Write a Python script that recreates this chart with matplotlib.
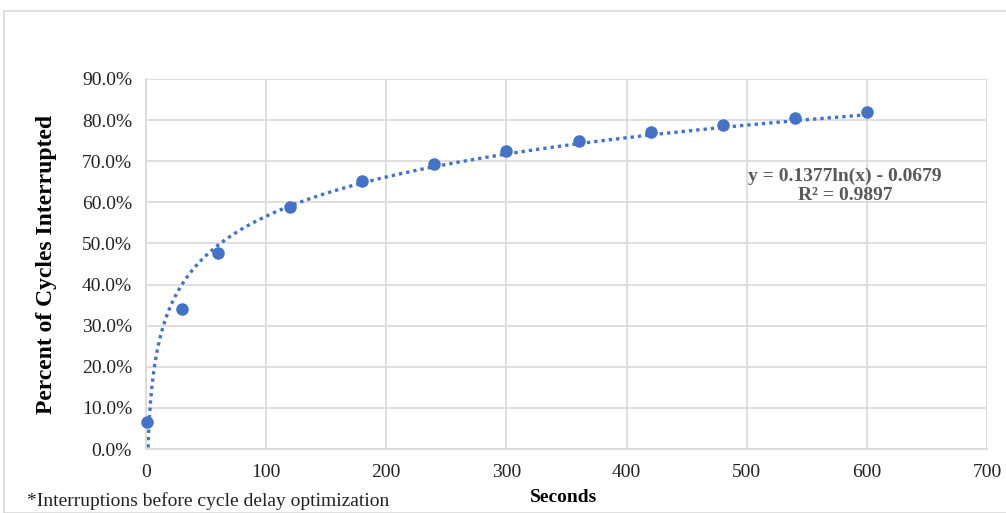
import matplotlib.pyplot as plt
import numpy as np
from matplotlib.patches import Rectangle
from matplotlib.ticker import FuncFormatter

seconds = [1, 30, 60, 120, 180, 240, 300, 360, 420, 480, 540, 600]
pct_interrupted = [0.066, 0.341, 0.477, 0.589, 0.652, 0.694, 0.724, 0.749, 0.770, 0.788, 0.805, 0.820]
fit_a = 0.1377
fit_b = -0.0679
fit_text = "y = 0.1377ln(x) - 0.0679\nR² = 0.9897"
x_ticks = [0, 100, 200, 300, 400, 500, 600, 700]
y_ticks = [0.0, 0.1, 0.2, 0.3, 0.4, 0.5, 0.6, 0.7, 0.8, 0.9]

blue = "#4472c4"
grid_color = "#d9d9d9"
serif = ["Liberation Serif", "DejaVu Serif"]

plt.rcParams["font.family"] = serif

fig = plt.figure(figsize=(10.06, 5.13), dpi=100)
fig.patches.append(
    Rectangle((4 / 1006, 0), 1.2, 1 - 11 / 513, transform=fig.transFigure,
              fill=False, edgecolor="#d9d9d9", linewidth=1.2)
)
ax = fig.add_axes([146 / 1006, 64 / 513, 841 / 1006, 370 / 513])

# log trendline from the coefficients shown on the chart
xs = np.linspace(min(seconds), max(seconds), 600)
ax.plot(xs, fit_a * np.log(xs) + fit_b, linestyle=(0, (1, 1.2)),
        color=blue, linewidth=2.4, zorder=2)
ax.plot(seconds, pct_interrupted, "o", color=blue, markersize=8, zorder=3,
        clip_on=False)

ax.set_xlim(0, 700)
ax.set_ylim(0, 0.9)
ax.set_xticks(x_ticks)
ax.set_yticks(y_ticks)
ax.yaxis.set_major_formatter(FuncFormatter(lambda v, _: f"{v * 100:.1f}%"))
ax.grid(True, color=grid_color, linewidth=1.2)
ax.set_axisbelow(True)
ax.tick_params(length=0, labelsize=14, colors="#222222")
ax.tick_params(axis="x", pad=11)
ax.tick_params(axis="y", pad=10)
for side in ["top", "right"]:
    ax.spines[side].set_visible(False)
for side in ["left", "bottom"]:
    ax.spines[side].set_color(grid_color)
    ax.spines[side].set_linewidth(1.2)

ax.set_ylabel("Percent of Cycles Interrupted", fontsize=17, fontweight="bold")
ax.yaxis.set_label_coords(-0.106, 0.5)
fig.text(564 / 1006, 1 - 498 / 513, "Seconds", fontsize=14, fontweight="bold",
         ha="center", va="center")
fig.text(27 / 1006, 1 - 501 / 513, "*Interruptions before cycle delay optimization",
         fontsize=14, ha="left", va="center", color="#222222")
ax.text(582, 0.64, fit_text, fontsize=14, fontweight="bold", color="#595959",
        ha="center", va="center", linespacing=1.1)

fig.savefig("out.png", dpi=100)
